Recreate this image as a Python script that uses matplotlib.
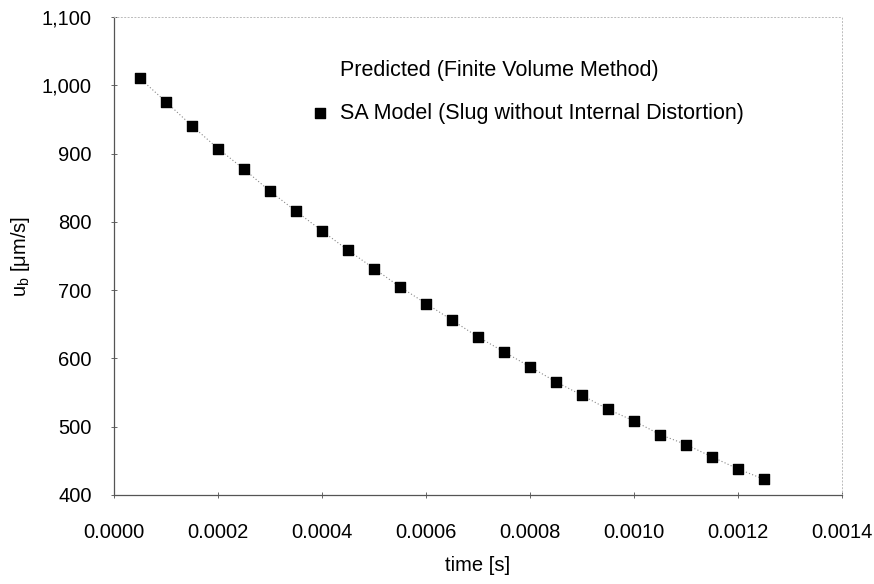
import numpy as np
import matplotlib.pyplot as plt
from matplotlib.ticker import FuncFormatter

# データ
time_s = np.arange(1, 26) * 0.00005
ub = [1010, 975.5, 940.4, 907.3, 877, 844.8, 815.5, 786.7, 758.4, 731.6,
      704.7, 680.4, 656, 631.5, 609.6, 587.7, 565.7, 546, 525.5, 508.4,
      488.5, 473.9, 455.8, 438.2, 423]

x_ticks = np.arange(0, 0.00141, 0.0002)
y_ticks = np.arange(400, 1101, 100)

plt.rcParams['font.family'] = ['Liberation Sans', 'DejaVu Sans']
plt.rcParams['mathtext.fontset'] = 'custom'
plt.rcParams['mathtext.rm'] = 'Liberation Sans'
plt.rcParams['mathtext.it'] = 'Liberation Sans'

FS = 14.5
FS_LEG = 15.5


def set_display(fig, ax):
    # 枠線 (点線)
    for side in ["left", "bottom"]:
        ax.spines[side].set_linestyle((0, (1, 1)))
        ax.spines[side].set_color("#555555")
        ax.spines[side].set_linewidth(0.9)
    for side in ["top", "right"]:
        ax.spines[side].set_linestyle((0, (1, 2.5)))
        ax.spines[side].set_color("#bbbbbb")
        ax.spines[side].set_linewidth(0.7)

    ax.set_xlim(0, 0.0014)
    ax.set_ylim(400, 1100)

    ax.set_xticks(x_ticks)
    ax.set_yticks(y_ticks)
    ax.xaxis.set_major_formatter(FuncFormatter(lambda v, p: f"{v:.4f}"))
    ax.yaxis.set_major_formatter(FuncFormatter(lambda v, p: f"{v:,.0f}"))
    ax.tick_params(direction="inout", length=4, width=0.7, color="#666666",
                   labelsize=FS)
    ax.tick_params(axis="x", pad=18)
    ax.tick_params(axis="y", pad=14)

    ax.set_xlabel("time [s]", fontsize=FS, labelpad=10)
    ax.set_ylabel(r"u$_\mathrm{b}$ [μm/s]", fontsize=FS, labelpad=7)


def main():
    fig = plt.figure(figsize=(8.74, 5.84), dpi=100)
    ax = fig.add_axes([0.1305, 0.1524, 0.8329, 0.8186])

    ax.plot(time_s, ub, linestyle=(0, (1, 2)), color="#888888", linewidth=0.8,
            label="Predicted (Finite Volume Method)")
    ax.scatter(time_s, ub, marker="s", s=42, color="black", zorder=3,
               label="SA Model (Slug without Internal Distortion)")

    set_display(fig, ax)

    leg = ax.legend(loc="upper left", bbox_to_anchor=(0.259, 0.927),
                    borderaxespad=0, frameon=False, fontsize=FS_LEG,
                    handlelength=0.8, handletextpad=0.56, labelspacing=1.0)
    # 線のハンドルは表示しない
    leg.legend_handles[0].set_visible(False)

    fig.savefig("out.png", dpi=100)


if __name__ == '__main__':
    main()
